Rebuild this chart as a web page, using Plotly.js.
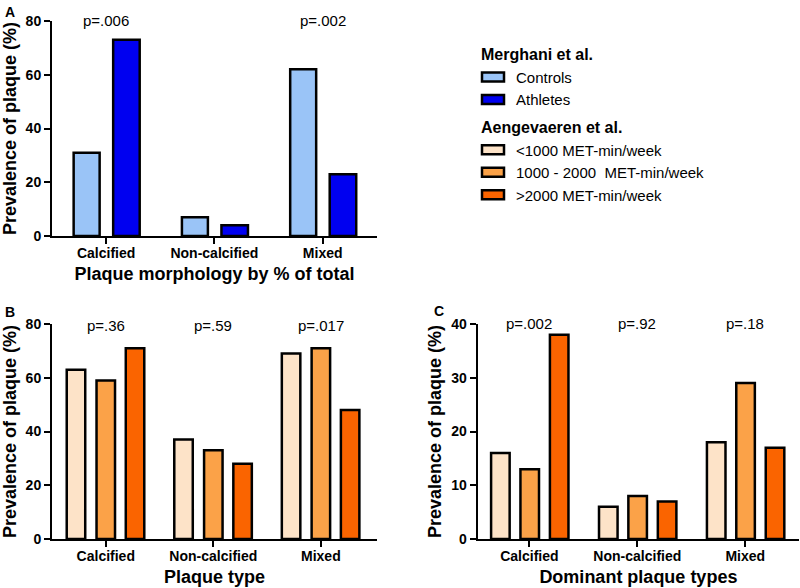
<!DOCTYPE html>
<html>
<head>
<meta charset="utf-8">
<script src="https://cdn.plot.ly/plotly-3.0.1.min.js"></script>
<style>
html,body{margin:0;padding:0;background:#fff;}
#chart{width:800px;height:588px;}
</style>
</head>
<body>
<div id="chart"></div>
<script>
// ---- data ----
var categories = ['Calcified', 'Non-calcified', 'Mixed'];

// Panel A: Merghani et al. (plaque morphology by % of total)
var aControls = [31, 7, 62];
var aAthletes = [73, 4, 23];
var aPvalues = ['p=.006', '', 'p=.002'];

// Panel B: Aengevaeren et al. (plaque type)
var bLow = [63, 37, 69];
var bMid = [59, 33, 71];
var bHigh = [71, 28, 48];
var bPvalues = ['p=.36', 'p=.59', 'p=.017'];

// Panel C: Aengevaeren et al. (dominant plaque types)
var cLow = [16, 6, 18];
var cMid = [13, 8, 29];
var cHigh = [38, 7, 17];
var cPvalues = ['p=.002', 'p=.92', 'p=.18'];

var seriesNames = ['Controls', 'Athletes', '<1000 MET-min/week', '1000 - 2000  MET-min/week', '>2000 MET-min/week'];
var groupTitles = ['Merghani et al.', 'Aengevaeren et al.'];

// ---- styles ----
var FONT = 'Liberation Sans, Arial, sans-serif';
var colors = ['#9ac4f7', '#0000f0', '#fde3c8', '#fba248', '#fa6400'];
var outline = {color: '#000', width: 2.5};

function bar(x, y, name, color, xa, ya, offset, width, group, gtitle, show) {
  return {
    type: 'bar', x: x, y: y, name: name,
    xaxis: xa, yaxis: ya,
    offset: offset, width: width,
    marker: {color: color, line: outline},
    legendgroup: group,
    legendgrouptitle: {text: gtitle, font: {family: FONT, size: 16, color: '#000', weight: 'bold'}},
    showlegend: show,
    hoverinfo: 'x+y+name'
  };
}

var wB = 0.172;
var traces = [
  bar(categories, aControls, seriesNames[0], colors[0], 'x', 'y', -0.30, 0.24, 'm', groupTitles[0], true),
  bar(categories, aAthletes, seriesNames[1], colors[1], 'x', 'y', 0.065, 0.245, 'm', groupTitles[0], true),
  bar(categories, bLow, seriesNames[2], colors[2], 'x2', 'y2', -0.363, wB, 'a', groupTitles[1], true),
  bar(categories, bMid, seriesNames[3], colors[3], 'x2', 'y2', -0.086, wB, 'a', groupTitles[1], true),
  bar(categories, bHigh, seriesNames[4], colors[4], 'x2', 'y2', 0.186, wB, 'a', groupTitles[1], true),
  bar(categories, cLow, seriesNames[2], colors[2], 'x3', 'y3', -0.355, wB, 'a', groupTitles[1], false),
  bar(categories, cMid, seriesNames[3], colors[3], 'x3', 'y3', -0.083, wB, 'a', groupTitles[1], false),
  bar(categories, cHigh, seriesNames[4], colors[4], 'x3', 'y3', 0.19, wB, 'a', groupTitles[1], false)
];

function xAxis(domain, range, anchor, title) {
  return {
    domain: domain, range: range, anchor: anchor,
    type: 'category', fixedrange: true,
    showline: true, linecolor: '#000', linewidth: 2,
    ticks: 'outside', ticklen: 6, tickwidth: 2, tickcolor: '#000',
    ticklabelstandoff: -3,
    showgrid: false, zeroline: false,
    tickfont: {family: FONT, size: 14, color: '#000', weight: 'bold'},
    title: {text: title, font: {family: FONT, size: 18, color: '#000', weight: 'bold'}, standoff: 8}
  };
}
function yAxis(domain, range, dtick, anchor) {
  return {
    domain: domain, range: range, dtick: dtick, anchor: anchor,
    fixedrange: true,
    showline: true, linecolor: '#000', linewidth: 2,
    ticks: 'outside', ticklen: 6, tickwidth: 2, tickcolor: '#000',
    showgrid: false, zeroline: false,
    tickfont: {family: FONT, size: 14, color: '#000', weight: 'bold'},
    title: {text: 'Prevalence of plaque (%)', font: {family: FONT, size: 18, color: '#000', weight: 'bold'}, standoff: 5}
  };
}

var annotations = [];
function addP(list, xref, yref, ytop) {
  list.forEach(function (t, i) {
    if (!t) return;
    annotations.push({
      text: t, x: categories[i], y: ytop, xref: xref, yref: yref,
      xanchor: 'center', yanchor: 'middle', showarrow: false,
      font: {family: FONT, size: 15, color: '#000'}
    });
  });
}
addP(aPvalues, 'x', 'y', 80);
addP(bPvalues, 'x2', 'y2', 79.5);
addP(cPvalues, 'x3', 'y3', 40);

[['A', 3, 2], ['B', 3, 302], ['C', 432, 301]].forEach(function (p) {
  annotations.push({
    text: p[0], x: p[1] / 800, y: 1 - p[2] / 588, xref: 'paper', yref: 'paper',
    xanchor: 'left', yanchor: 'top', showarrow: false,
    font: {family: FONT, size: 14, color: '#000', weight: 'bold'}
  });
});

var layout = {
  width: 800, height: 588,
  margin: {l: 0, r: 0, t: 0, b: 0},
  paper_bgcolor: '#fff', plot_bgcolor: '#fff',
  barmode: 'overlay',
  font: {family: FONT, color: '#000'},
  xaxis: xAxis([0.065, 0.471], [-0.5, 2.5], 'y', 'Plaque morphology by % of total'),
  yaxis: yAxis([0.5986, 0.9643], [0, 80], 20, 'x'),
  xaxis2: xAxis([0.065, 0.471], [-0.5, 2.52], 'y2', 'Plaque type'),
  yaxis2: yAxis([0.0833, 0.449], [0, 80], 20, 'x2'),
  xaxis3: xAxis([0.597, 0.999], [-0.48, 2.5], 'y3', 'Dominant plaque types'),
  yaxis3: yAxis([0.0833, 0.449], [0, 40], 10, 'x3'),
  showlegend: true,
  legend: {
    x: 476 / 800, y: 1 - 37 / 588, xanchor: 'left', yanchor: 'top',
    traceorder: 'grouped', tracegroupgap: 4,
    bgcolor: 'rgba(0,0,0,0)',
    font: {family: FONT, size: 15, color: '#000'}
  },
  annotations: annotations
};

Plotly.newPlot('chart', traces, layout, {displayModeBar: false, staticPlot: true}).then(function () {
  // widen the legend swatches to the reference's flat rectangles
  document.querySelectorAll('.legend .legendpoints path').forEach(function (p) {
    p.setAttribute('d', 'M8,4.5H-14V-4.5H8Z');
  });
});
</script>
</body>
</html>
